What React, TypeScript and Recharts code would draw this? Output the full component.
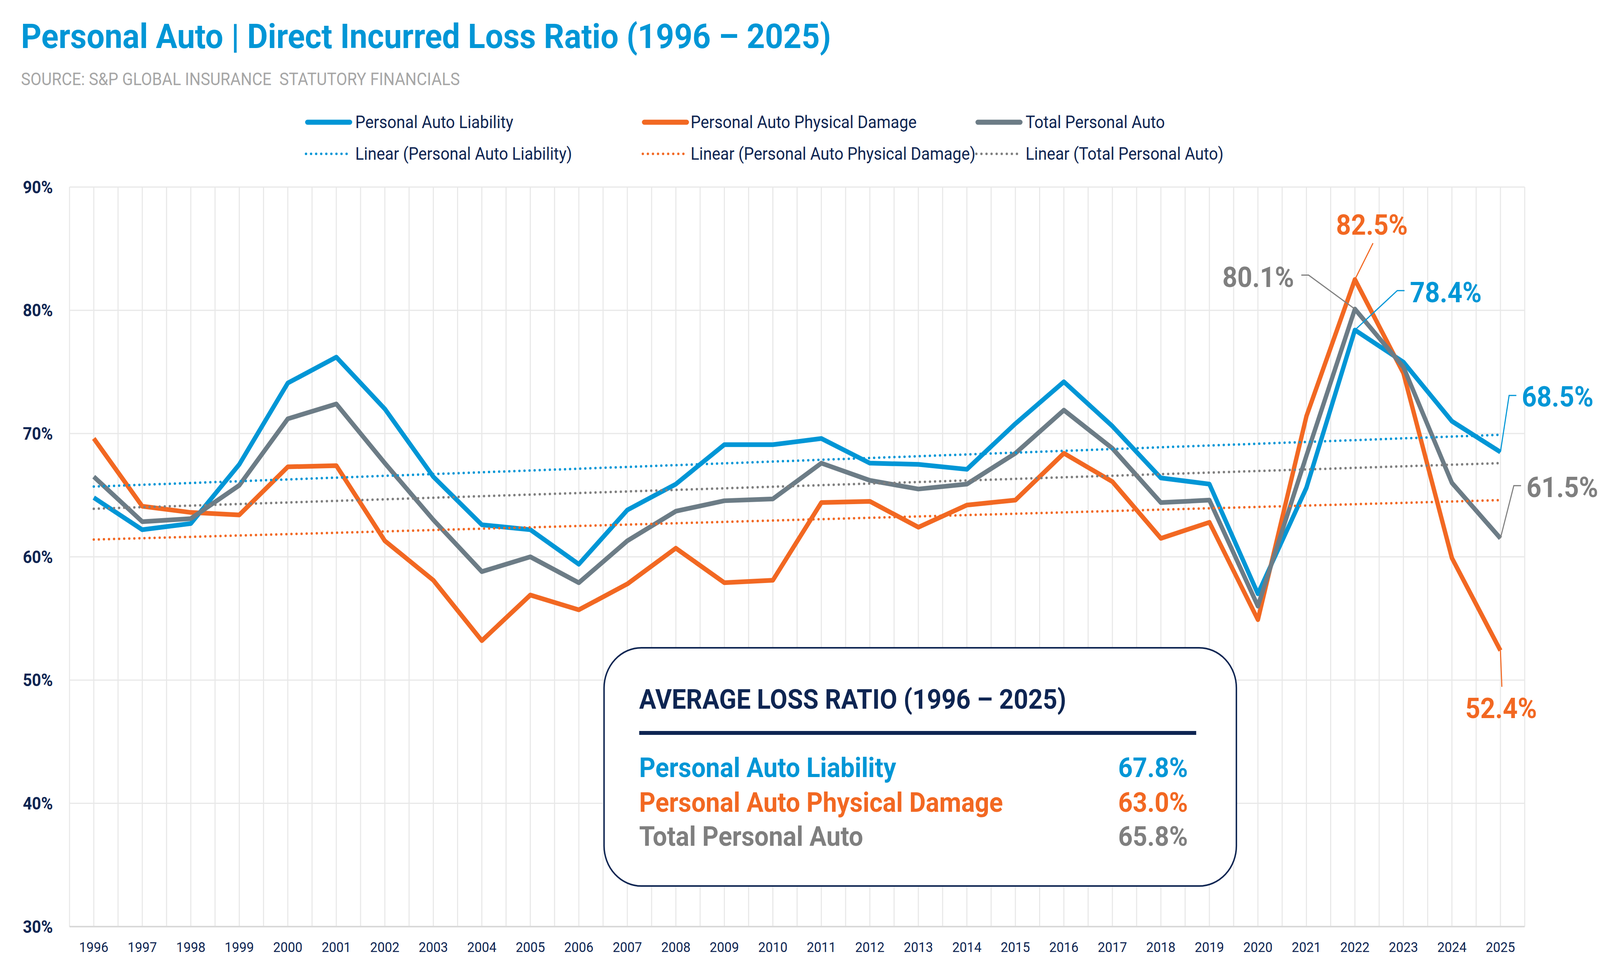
import React from 'react';
import { LineChart, Line, XAxis, YAxis, CartesianGrid } from 'recharts';

const years = [1996, 1997, 1998, 1999, 2000, 2001, 2002, 2003, 2004, 2005, 2006, 2007, 2008, 2009, 2010, 2011, 2012, 2013, 2014, 2015, 2016, 2017, 2018, 2019, 2020, 2021, 2022, 2023, 2024, 2025];
const liability = [64.8, 62.2, 62.7, 67.5, 74.1, 76.2, 72.0, 66.5, 62.6, 62.2, 59.4, 63.8, 65.9, 69.1, 69.1, 69.6, 67.6, 67.5, 67.1, 70.8, 74.2, 70.6, 66.4, 65.9, 57.0, 65.6, 78.4, 75.8, 71.0, 68.5];
const physicalDamage = [69.6, 64.1, 63.6, 63.4, 67.3, 67.4, 61.3, 58.1, 53.2, 56.9, 55.7, 57.8, 60.7, 57.9, 58.1, 64.4, 64.5, 62.4, 64.2, 64.6, 68.4, 66.1, 61.5, 62.8, 54.9, 71.4, 82.5, 74.9, 59.9, 52.4];
const totalAuto = [66.5, 62.85, 63.1, 65.8, 71.2, 72.4, 67.6, 63.0, 58.8, 60.0, 57.9, 61.3, 63.7, 64.55, 64.7, 67.6, 66.2, 65.5, 65.9, 68.4, 71.9, 68.8, 64.4, 64.6, 56.0, 68.2, 80.1, 75.4, 66.0, 61.5];

// linear trend endpoints (1996, 2025)
const trendYears = [1996, 2025];
const liabilityTrend = [65.7, 69.9];
const physicalDamageTrend = [61.4, 64.6];
const totalTrend = [63.9, 67.6];

const yTicks = [30, 40, 50, 60, 70, 80, 90];

const averageLabels = ['Personal Auto Liability', 'Personal Auto Physical Damage', 'Total Personal Auto'];
const averageValues = ['67.8%', '63.0%', '65.8%'];

const W = 4418;
const H = 2479;
const BLUE = '#0096D6';
const ORANGE = '#F26822';
const GRAY_LINE = '#6C7C86';
const GRAY_TEXT = '#7F7F7F';
const NAVY = '#0E2552';
const FONT = 'Roboto, "Noto Sans", sans-serif';

const data = years.map((y, i) => ({ year: y, liability: liability[i], pd: physicalDamage[i], total: totalAuto[i] }));
const mkTrend = (arr: number[]) => trendYears.map((y, i) => ({ year: y, v: arr[i] }));

const verticalGrid = years.flatMap((y) => [y - 0.5, y]).concat([years[years.length - 1] + 0.5]);

type LabelCfg = { index: number; path: number[][]; dx: number; dy: number; anchor: 'start' | 'middle' | 'end' };

const makeLabel = (cfgs: LabelCfg[], color: string, lineColor: string) => (props: any) => {
  const { x, y, index, value } = props;
  const cfg = cfgs.find((c) => c.index === index);
  if (!cfg || x == null || y == null) return <g key={`l-${index}`} />;
  const pts = [[0, 0], ...cfg.path].map(([px, py]) => `${x + px},${y + py}`).join(' ');
  const fs = 72;
  return (
    <g key={`l-${index}`}>
      <polyline points={pts} fill="none" stroke={lineColor} strokeWidth={3} />
      <text
        x={x + cfg.dx}
        y={y + cfg.dy + fs * 0.355}
        textAnchor={cfg.anchor}
        fill={color}
        fontFamily={FONT}
        fontWeight={700}
        fontSize={fs}
      >
        {`${Number(value).toFixed(1)}%`}
      </text>
    </g>
  );
};

const liabilityLabels: LabelCfg[] = [
  { index: 26, path: [[117, -101], [137, -101]], dx: 152, dy: -97, anchor: 'start' },
  { index: 29, path: [[24, -145], [44, -145]], dx: 59, dy: -142, anchor: 'start' },
];
const pdLabels: LabelCfg[] = [
  { index: 26, path: [[50, -93]], dx: 47, dy: -140, anchor: 'middle' },
  { index: 29, path: [[4, 93]], dx: 2, dy: 148, anchor: 'middle' },
];
const totalLabels: LabelCfg[] = [
  { index: 26, path: [[-128, -87], [-148, -87]], dx: -168, dy: -82, anchor: 'end' },
  { index: 29, path: [[37, -135], [57, -135]], dx: 72, dy: -131, anchor: 'start' },
];

const Txt = (p: { x: number; base: number; size: number; weight?: number; color: string; right?: boolean; children: React.ReactNode }) => (
  <div
    style={{
      position: 'absolute',
      left: p.right ? undefined : p.x,
      right: p.right ? W - p.x : undefined,
      top: p.base - 0.842 * p.size,
      fontFamily: FONT,
      fontSize: p.size,
      fontWeight: p.weight ?? 400,
      color: p.color,
      lineHeight: 1,
      whiteSpace: 'pre',
    }}
  >
    {p.children}
  </div>
);

const legendItems = [
  { label: 'Personal Auto Liability', color: BLUE, dotted: false, x: 843, tx: 981, row: 0 },
  { label: 'Personal Auto Physical Damage', color: ORANGE, dotted: false, x: 1773, tx: 1907, row: 0 },
  { label: 'Total Personal Auto', color: GRAY_LINE, dotted: false, x: 2694, tx: 2832, row: 0 },
  { label: 'Linear (Personal Auto Liability)', color: BLUE, dotted: true, x: 843, tx: 981, row: 1 },
  { label: 'Linear (Personal Auto Physical Damage)', color: ORANGE, dotted: true, x: 1773, tx: 1907, row: 1 },
  { label: 'Linear (Total Personal Auto)', color: GRAY_TEXT, dotted: true, x: 2694, tx: 2832, row: 1 },
];
const legendRowCenter = [313, 394];
const legendRowBase = [328, 409];

export default function App() {
  const vw = typeof window !== 'undefined' ? document.documentElement.clientWidth || window.innerWidth : W;
  const vh = typeof window !== 'undefined' ? window.innerHeight : H;
  const sx = Math.min(1, vw / W);
  const sy = Math.min(1, vh / H);
  return (
    <div style={{ position: 'absolute', left: 0, top: 0, width: W * sx, height: H * sy, overflow: 'hidden', background: '#fff' }}>
      <div
        style={{
          position: 'absolute',
          left: 0,
          top: 0,
          width: W,
          height: H,
          background: '#fff',
          transformOrigin: '0 0',
          transform: `scale(${sx}, ${sy})`,
        }}
      >
        <LineChart width={W} height={H} data={data} margin={{ top: 479, right: 208, bottom: 46, left: 42 }}>
          <CartesianGrid stroke="#E8E8E8" strokeWidth={3} verticalValues={verticalGrid} horizontalValues={yTicks} />
          <XAxis
            dataKey="year"
            type="number"
            domain={[1995.5, 2025.5]}
            ticks={years}
            interval={0}
            height={60}
            tickLine={false}
            axisLine={{ stroke: '#D9D9D9', strokeWidth: 4 }}
            tickMargin={33}
            tick={{ fontFamily: FONT, fontSize: 36, fill: NAVY }}
            allowDataOverflow
          />
          <YAxis
            type="number"
            domain={[30, 90]}
            ticks={yTicks}
            width={150}
            tickLine={false}
            axisLine={false}
            tickMargin={40}
            tickFormatter={(v: number) => `${v}%`}
            tick={{ fontFamily: FONT, fontSize: 44, fill: NAVY, fontWeight: 700 }}
          />
          <Line dataKey="liability" stroke={BLUE} strokeWidth={12} dot={false} activeDot={false} isAnimationActive={false} strokeLinejoin="round" />
          <Line dataKey="pd" stroke={ORANGE} strokeWidth={12} dot={false} activeDot={false} isAnimationActive={false} strokeLinejoin="round" />
          <Line dataKey="total" stroke={GRAY_LINE} strokeWidth={12} dot={false} activeDot={false} isAnimationActive={false} strokeLinejoin="round" />
          <Line data={mkTrend(liabilityTrend)} dataKey="v" stroke={BLUE} strokeWidth={6.5} strokeDasharray="0 14" strokeLinecap="round" dot={false} activeDot={false} isAnimationActive={false} />
          <Line data={mkTrend(physicalDamageTrend)} dataKey="v" stroke={ORANGE} strokeWidth={6.5} strokeDasharray="0 14" strokeLinecap="round" dot={false} activeDot={false} isAnimationActive={false} />
          <Line data={mkTrend(totalTrend)} dataKey="v" stroke={GRAY_TEXT} strokeWidth={6.5} strokeDasharray="0 14" strokeLinecap="round" dot={false} activeDot={false} isAnimationActive={false} />
          <Line dataKey="liability" stroke="none" dot={false} activeDot={false} isAnimationActive={false} label={makeLabel(liabilityLabels, BLUE, BLUE)} legendType="none" />
          <Line dataKey="pd" stroke="none" dot={false} activeDot={false} isAnimationActive={false} label={makeLabel(pdLabels, ORANGE, ORANGE)} legendType="none" />
          <Line dataKey="total" stroke="none" dot={false} activeDot={false} isAnimationActive={false} label={makeLabel(totalLabels, GRAY_TEXT, GRAY_TEXT)} legendType="none" />
        </LineChart>

        <Txt x={58} base={123} size={88} weight={700} color={BLUE}>Personal Auto | Direct Incurred Loss Ratio (1996 – 2025)</Txt>
        <Txt x={58} base={218} size={44} color="#A6A6A6">SOURCE: S&amp;P GLOBAL INSURANCE  STATUTORY FINANCIALS</Txt>

        {legendItems.map((it) => (
          <React.Fragment key={it.label}>
            <svg style={{ position: 'absolute', left: it.x - 8, top: legendRowCenter[it.row] - 10 }} width={146} height={20}>
              {it.dotted ? (
                <line x1={10} y1={10} x2={132} y2={10} stroke={it.color} strokeWidth={6.5} strokeDasharray="0 14" strokeLinecap="round" />
              ) : (
                <line x1={14} y1={10} x2={131} y2={10} stroke={it.color} strokeWidth={13} strokeLinecap="round" />
              )}
            </svg>
            <Txt x={it.tx} base={legendRowBase[it.row]} size={44} color={NAVY}>{it.label}</Txt>
          </React.Fragment>
        ))}

        <div
          style={{
            position: 'absolute',
            left: 1666,
            top: 1657,
            width: 1750,
            height: 614,
            boxSizing: 'border-box',
            border: `4px solid ${NAVY}`,
            borderRadius: 105,
            background: '#fff',
          }}
        />
        <Txt x={1765} base={1815} size={70} weight={700} color={NAVY}>AVERAGE LOSS RATIO (1996 – 2025)</Txt>
        <div style={{ position: 'absolute', left: 1765, top: 1872, width: 1538, height: 10, background: NAVY }} />
        {averageLabels.map((lab, i) => {
          const color = [BLUE, ORANGE, GRAY_TEXT][i];
          const base = [1990, 2079, 2166][i];
          return (
            <React.Fragment key={lab}>
              <Txt x={1765} base={base} size={70} weight={700} color={color}>{lab}</Txt>
              <Txt x={3280} base={base} size={70} weight={700} color={color} right>{averageValues[i]}</Txt>
            </React.Fragment>
          );
        })}
      </div>
    </div>
  );
}
